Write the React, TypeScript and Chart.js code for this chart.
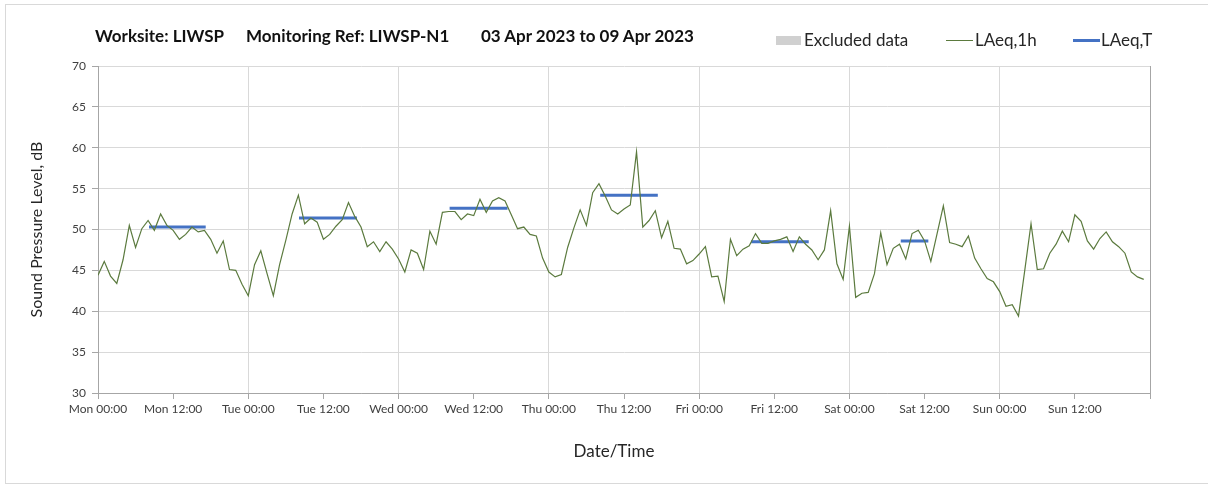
import React, { useEffect, useRef } from "react";
import { Chart, registerables } from "chart.js";

Chart.register(...registerables);

const dayNames = ["Mon", "Tue", "Wed", "Thu", "Fri", "Sat", "Sun"];

// LAeq,1h hourly values, Mon 00:00 .. Sun 23:00
const laeq1h = [
  44.4, 46.1, 44.3, 43.4, 46.3, 50.5, 47.8, 50.1, 51.1, 49.9, 51.9, 50.5,
  49.9, 48.8, 49.4, 50.3, 49.7, 49.9, 48.8, 47.1, 48.6, 45.1, 45.0, 43.3,
  41.9, 45.7, 47.4, 44.6, 41.9, 45.7, 48.7, 51.9, 54.2, 50.7, 51.4, 50.9,
  48.8, 49.4, 50.4, 51.2, 53.3, 51.6, 50.3, 47.9, 48.5, 47.3, 48.5, 47.6,
  46.4, 44.8, 47.5, 47.1, 45.1, 49.8, 48.2, 52.1, 52.2, 52.2, 51.2, 51.9,
  51.7, 53.7, 52.1, 53.5, 53.9, 53.5, 51.8, 50.1, 50.3, 49.4, 49.2, 46.5,
  44.8, 44.2, 44.5, 47.8, 50.2, 52.4, 50.5, 54.5, 55.6, 54.1, 52.4, 51.9,
  52.5, 53.0, 59.5, 50.3, 51.1, 52.3, 49.0, 51.0, 47.7, 47.6, 45.8, 46.2,
  47.0, 47.9, 44.2, 44.3, 41.2, 48.8, 46.8, 47.6, 48.0, 49.5, 48.3, 48.3,
  48.6, 48.8, 49.1, 47.3, 49.1, 48.2, 47.5, 46.3, 47.5, 52.3, 45.8, 43.9,
  50.4, 41.7, 42.2, 42.3, 44.6, 49.6, 45.7, 47.7, 48.2, 46.4, 49.5, 49.9,
  48.6, 46.1, 49.5, 52.9, 48.4, 48.2, 47.9, 49.2, 46.5, 45.2, 44.0, 43.6,
  42.4, 40.6, 40.8, 39.4, 45.0, 50.7, 45.1, 45.2, 47.1, 48.2, 49.8, 48.5,
  51.8, 51.0, 48.6, 47.6, 48.9, 49.7, 48.5, 47.9, 47.1, 44.8, 44.2, 43.9,
];

// LAeq,T periods (hours from Mon 00:00) and values
const periodStart = [8.15, 32.1, 56.15, 80.2, 104.3, 128.2];
const periodEnd = [17.2, 41.35, 65.4, 89.4, 113.5, 132.6];
const laeqT = [50.3, 51.4, 52.6, 54.2, 48.5, 48.6];

const yTicks = { min: 30, max: 70, step: 5 };
const xTicks = { min: 0, max: 168, step: 12 };

const FONT = "Lato, 'Open Sans', sans-serif";

export default function App() {
  const ref = useRef<HTMLCanvasElement | null>(null);

  useEffect(() => {
    if (!ref.current) return;
    const hourly = laeq1h.map((v, i) => ({ x: i, y: v }));
    const periods: { x: number; y: number | null }[] = [];
    laeqT.forEach((v, i) => {
      periods.push({ x: periodStart[i], y: v });
      periods.push({ x: periodEnd[i], y: v });
      periods.push({ x: periodEnd[i] + 0.5, y: null });
    });

    const chart = new Chart(ref.current, {
      type: "line",
      data: {
        datasets: [
          {
            label: "LAeq,1h",
            data: hourly,
            borderColor: "#5b7a3e",
            borderWidth: 1.2,
            pointRadius: 0,
            tension: 0,
          },
          {
            label: "LAeq,T",
            data: periods as any,
            borderColor: "#4472c4",
            borderWidth: 3,
            pointRadius: 0,
            spanGaps: false,
          },
        ],
      },
      options: {
        responsive: false,
        animation: false,
        events: [],
        layout: { padding: { left: 23, right: 58, top: 66, bottom: 20 } },
        plugins: {
          legend: { display: false },
          title: { display: false },
          tooltip: { enabled: false },
        },
        scales: {
          x: {
            type: "linear",
            min: xTicks.min,
            max: xTicks.max,
            afterFit: (s: any) => {
              s.height = 73;
            },
            ticks: {
              stepSize: xTicks.step,
              autoSkip: false,
              maxRotation: 0,
              padding: 3,
              color: "#404040",
              font: { family: FONT, size: 12 },
              callback: (v: any) => {
                const n = Number(v);
                if (n >= 168) return "";
                const d = dayNames[Math.floor(n / 24)];
                return d + (n % 24 === 0 ? " 00:00" : " 12:00");
              },
            },
            grid: {
              color: (ctx: any) => {
                const v = ctx.tick ? ctx.tick.value : -1;
                if (v === 168) return "#a6a6a6";
                return v % 24 === 0 ? "#d9d9d9" : "rgba(0,0,0,0)";
              },
              tickColor: "#a6a6a6",
              tickLength: 6,
            },
            border: { color: "#a6a6a6", width: 1 },
            title: { display: false },
          },
          y: {
            min: yTicks.min,
            max: yTicks.max,
            afterFit: (s: any) => {
              s.width = 75;
            },
            ticks: {
              stepSize: yTicks.step,
              padding: 6,
              color: "#404040",
              font: { family: FONT, size: 12 },
            },
            grid: {
              color: "#d9d9d9",
              tickColor: "#a6a6a6",
              tickLength: 6,
            },
            border: { color: "#a6a6a6", width: 1 },
            title: {
              display: true,
              text: "Sound Pressure Level, dB",
              color: "#262626",
              font: { family: FONT, size: 16 },
            },
          },
        },
      },
    });
    return () => chart.destroy();
  }, []);

  const textBase: React.CSSProperties = {
    position: "absolute",
    fontFamily: FONT,
    whiteSpace: "nowrap",
    lineHeight: "20px",
  };
  const titleStyle: React.CSSProperties = {
    ...textBase,
    top: 26,
    fontSize: 17,
    fontWeight: 700,
    color: "#111",
  };

  return (
    <div
      style={{
        position: "fixed",
        left: 0,
        top: 0,
        width: 1208,
        height: 486,
        background: "#fff",
        overflow: "hidden",
      }}
    >
      <div
        style={{
          position: "absolute",
          left: 5,
          top: 4,
          width: 1220,
          height: 478,
          border: "1px solid #d9d9d9",
        }}
      />
      <canvas
        ref={ref}
        width={1208}
        height={486}
        style={{ position: "absolute", left: 0, top: 0 }}
      />
      <div style={{ ...titleStyle, left: 95 }}>Worksite: LIWSP</div>
      <div style={{ ...titleStyle, left: 246 }}>Monitoring Ref: LIWSP-N1</div>
      <div style={{ ...titleStyle, left: 481 }}>03 Apr 2023 to 09 Apr 2023</div>
      {/* legend */}
      <div style={{ position: "absolute", left: 776, top: 36, width: 25, height: 9, background: "#d0d0d0" }} />
      <div style={{ ...textBase, left: 804, top: 30, fontSize: 17, color: "#262626" }}>Excluded data</div>
      <div style={{ position: "absolute", left: 946, top: 40, width: 27, height: 1.3, background: "#5b7a3e" }} />
      <div style={{ ...textBase, left: 975, top: 30, fontSize: 17, color: "#262626" }}>LAeq,1h</div>
      <div style={{ position: "absolute", left: 1073, top: 39, width: 27, height: 3, background: "#4472c4" }} />
      <div style={{ ...textBase, left: 1101, top: 30, fontSize: 17, color: "#262626" }}>LAeq,T</div>
      {/* x axis title */}
      <div
        style={{
          ...textBase,
          left: 514,
          width: 200,
          textAlign: "center",
          top: 441,
          fontSize: 17,
          color: "#262626",
        }}
      >
        Date/Time
      </div>
    </div>
  );
}
